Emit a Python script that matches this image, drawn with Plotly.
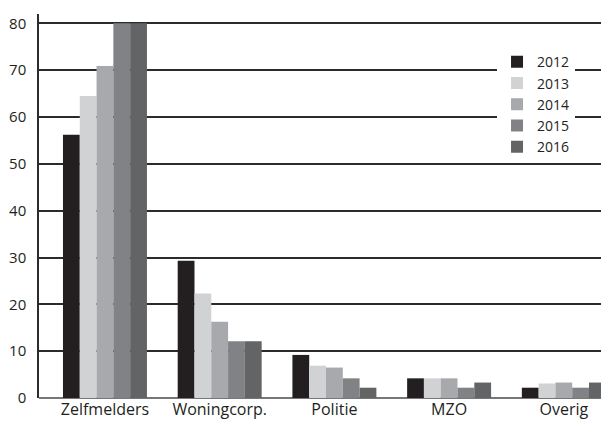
import plotly.graph_objects as go

categories = ["Zelfmelders", "Woningcorp.", "Politie", "MZO", "Overig"]
years = ["2012", "2013", "2014", "2015", "2016"]
values_2012 = [56.2, 29.3, 9.2, 4.2, 2.2]
values_2013 = [64.5, 22.3, 6.9, 4.2, 3.1]
values_2014 = [70.9, 16.3, 6.5, 4.2, 3.3]
values_2015 = [80.0, 12.1, 4.2, 2.2, 2.2]
values_2016 = [80.0, 12.1, 2.2, 3.3, 3.3]
y_ticks = [0, 10, 20, 30, 40, 50, 60, 70, 80]

series = [values_2012, values_2013, values_2014, values_2015, values_2016]
colors = ["#231f20", "#d1d2d4", "#a7a9ac", "#808285", "#636466"]

FONT = "Open Sans"

fig = go.Figure()
for year, vals, col in zip(years, series, colors):
    fig.add_trace(go.Bar(
        x=categories, y=vals, name=year,
        marker=dict(color=col, line=dict(width=0)),
    ))

fig.update_layout(
    width=601, height=425,
    margin=dict(l=39, r=0, t=14, b=27),
    paper_bgcolor="white", plot_bgcolor="white",
    barmode="group", bargap=0.268, bargroupgap=0,
    font=dict(family=FONT, color="#231f20"),
    showlegend=True,
    legend=dict(
        x=0.815, y=0.916, xanchor="left", yanchor="top",
        bgcolor="white", borderwidth=0,
        font=dict(size=14, family=FONT, color="#231f20"),
        itemwidth=30, traceorder="normal",
    ),
    xaxis=dict(
        type="category", range=[-0.575, 4.324],
        showgrid=False, showline=False, zeroline=False,
        ticks="", tickfont=dict(size=16, family=FONT, color="#231f20"),
    ),
    yaxis=dict(
        range=[0, 82], tickvals=y_ticks,
        showgrid=True, gridcolor="#2b2b2b", gridwidth=1.5,
        showline=True, linecolor="#2b2b2b", linewidth=1.5,
        zeroline=True, zerolinecolor="#777777", zerolinewidth=2,
        ticks="", ticklabelstandoff=8,
        tickfont=dict(size=15, family=FONT, color="#231f20"),
    ),
)

fig.write_html("out.html")
